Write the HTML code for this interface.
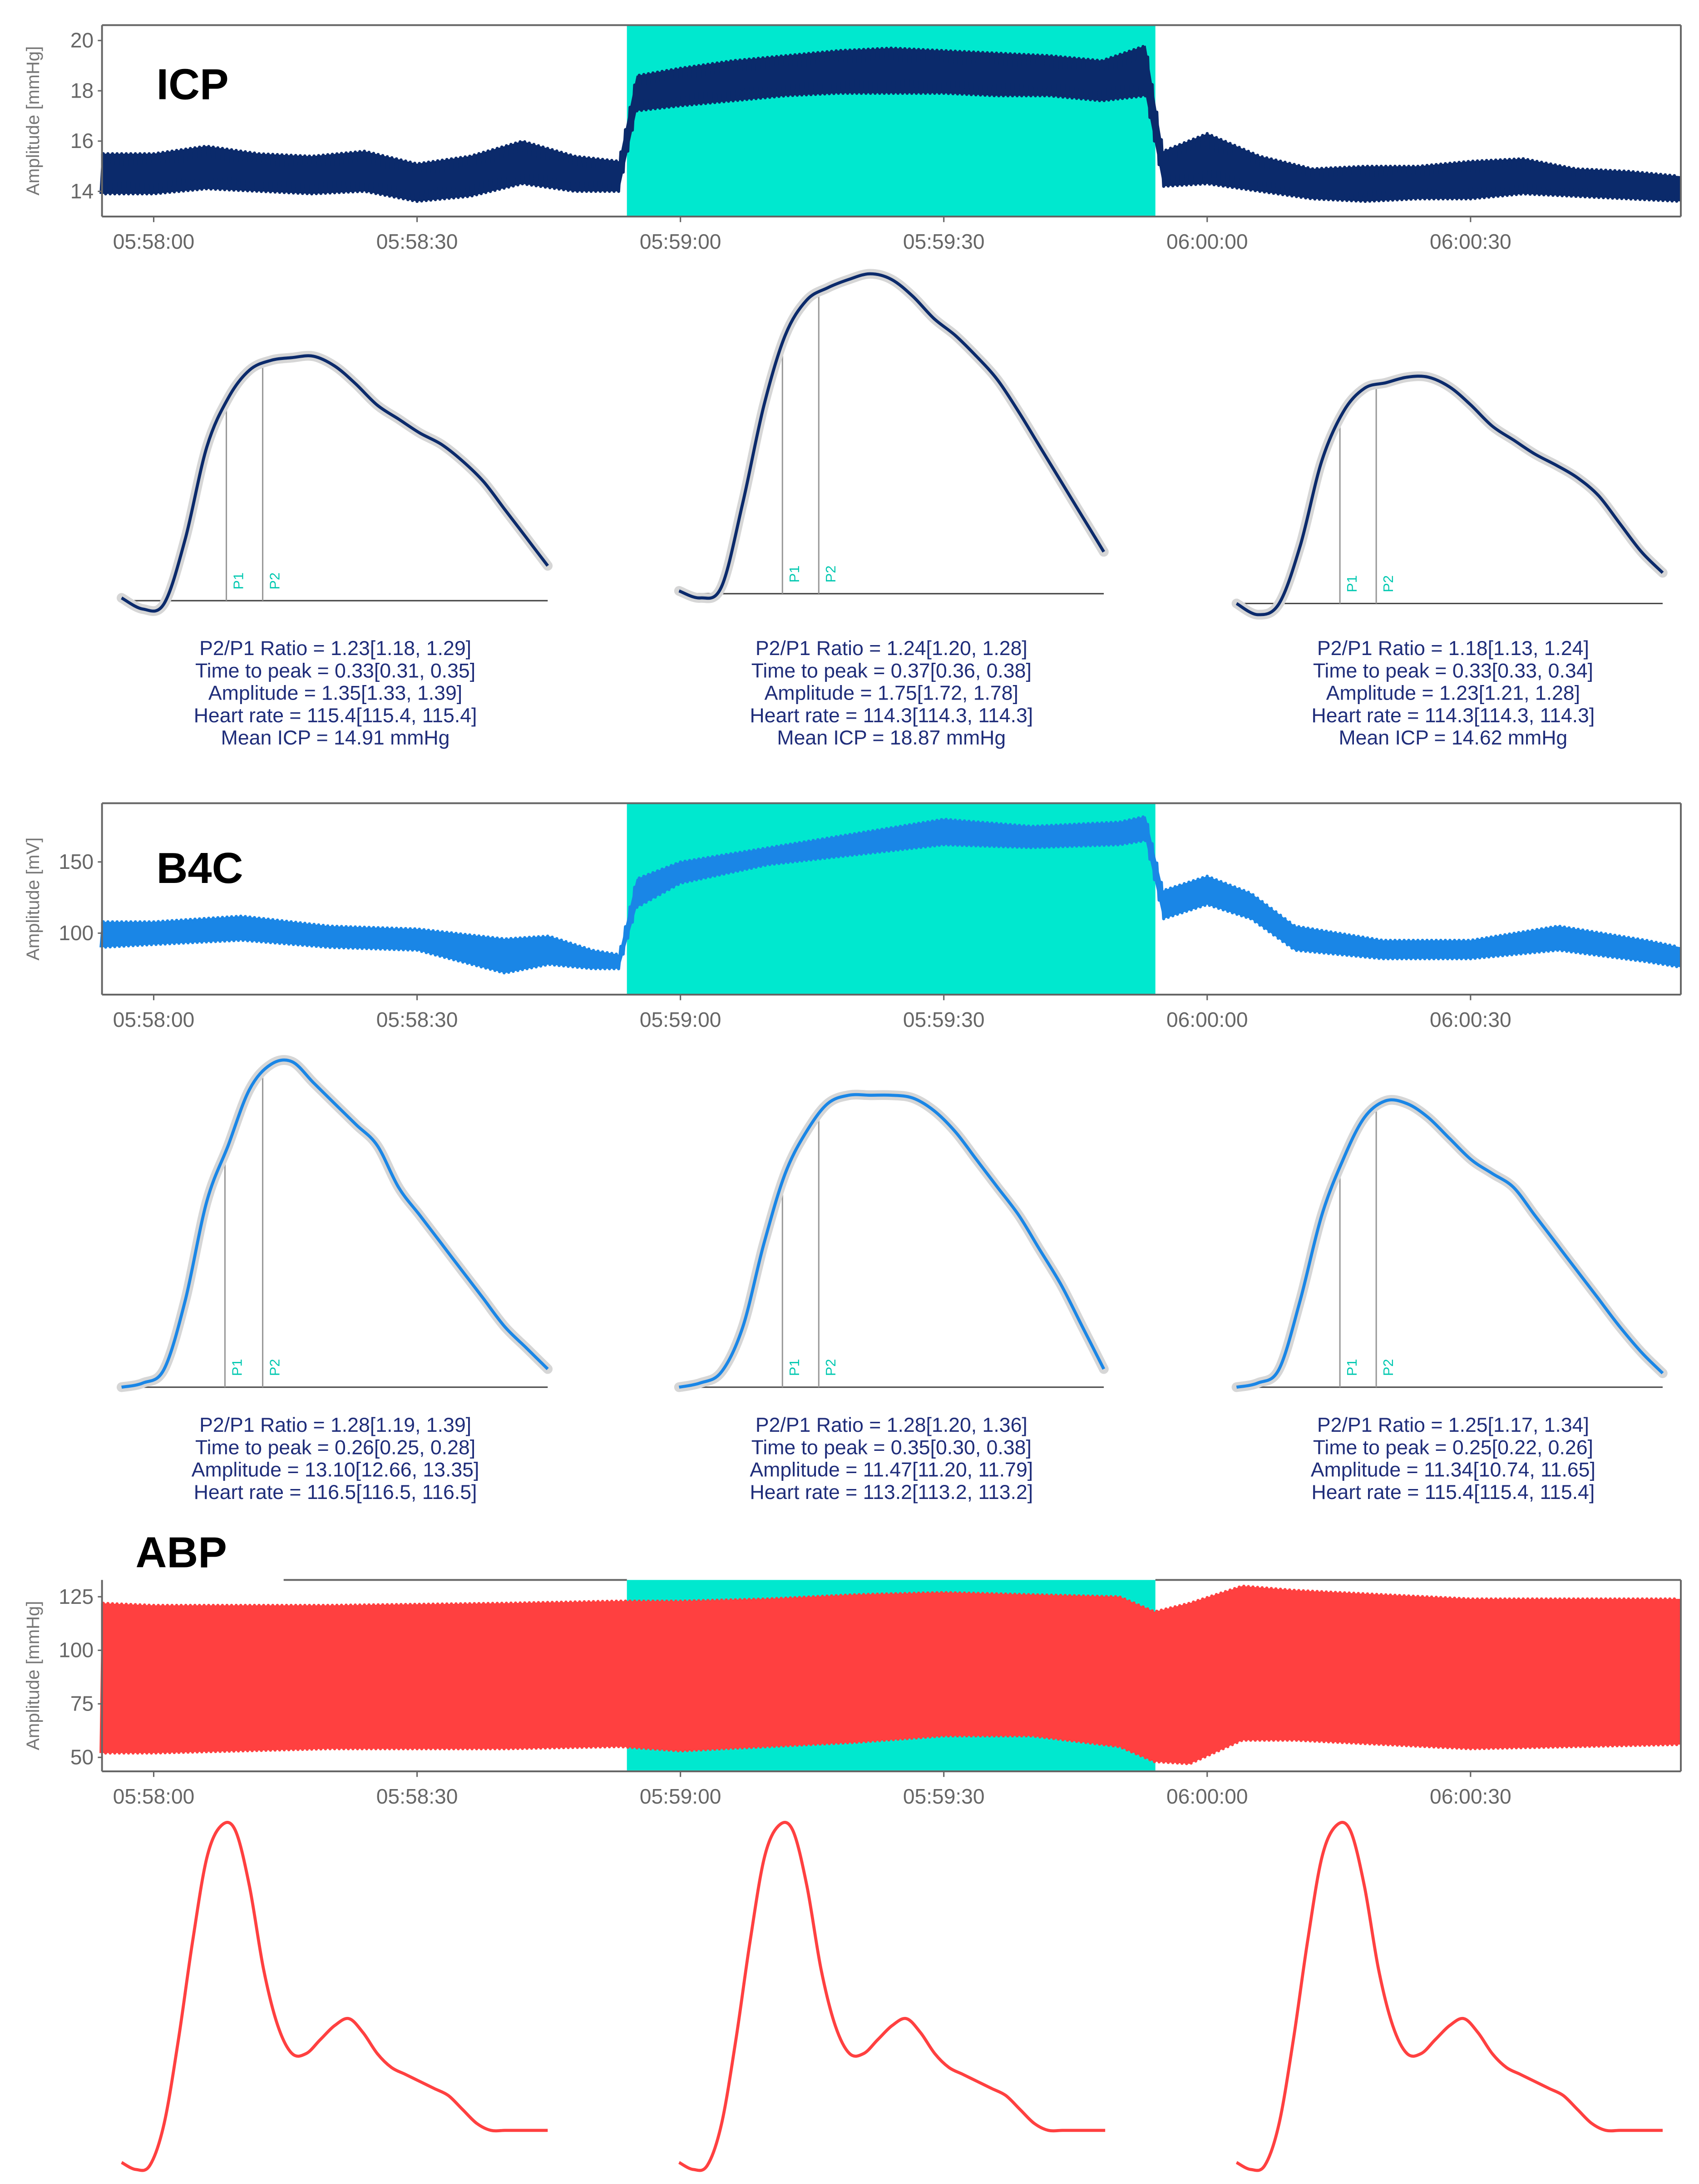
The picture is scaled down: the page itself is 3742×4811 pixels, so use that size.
<!DOCTYPE html>
<html><head><meta charset="utf-8"><style>
html,body{margin:0;padding:0;background:#fff}
svg{display:block}
.tk{font-family:"Liberation Sans",sans-serif;font-size:15px;fill:#666}
.ax{font-family:"Liberation Sans",sans-serif;font-size:13px;fill:#777}
.big{font-family:"Liberation Sans",sans-serif;font-size:31px;font-weight:bold;fill:#000}
.st{font-family:"Liberation Sans",sans-serif;font-size:14.5px;fill:#1f2d7a}
.pl{font-family:"Liberation Sans",sans-serif;font-size:10px;fill:#00c8b0}
</style></head><body>
<svg id="fig" width="3742" height="4811" viewBox="0 0 1216 1563.4" xmlns="http://www.w3.org/2000/svg"></svg>
<script>
// ---- time-series envelopes (seconds from 05:58:00) ----
const icpT  = [-6,0,6,12,18,24,30,36,42,48,53,55,60,66,72,78,84,90,96,102,108,113,115,120,126,132,138,144,150,156,162,168,174];
const icpLo = [13.9,13.9,14.1,14.0,13.9,14.0,13.6,13.8,14.3,14.0,14.0,17.2,17.4,17.6,17.8,17.9,17.9,17.9,17.8,17.8,17.6,17.8,14.2,14.3,14.0,13.7,13.6,13.7,13.7,13.9,13.8,13.7,13.6];
const icpHi = [15.5,15.5,15.8,15.5,15.4,15.6,15.1,15.4,16.0,15.4,15.2,18.6,18.9,19.2,19.4,19.6,19.7,19.6,19.5,19.4,19.2,19.8,15.6,16.3,15.4,14.9,15.0,15.0,15.2,15.3,14.9,14.8,14.6];
const b4cT  = [-6,0,10,20,30,40,45,50,53,55,60,70,80,90,100,110,113,115,120,125,130,140,150,160,170,174];
const b4cLo = [90,92,95,90,88,72,78,75,75,118,135,148,155,162,160,162,165,110,120,110,88,82,82,88,80,76];
const b4cHi = [108,108,112,105,103,96,98,88,85,138,150,160,170,180,175,178,182,130,140,128,105,95,95,105,95,90];
const abpT  = [-6,0,20,40,53,60,70,80,90,100,110,114,118,124,130,150,174];
const abpLo = [52,52,54,54,55,53,55,57,60,60,55,48,47,58,58,54,56];
const abpHi = [122,121,121,122,123,123,124,126,127,126,125,118,122,130,128,124,124];
const xTicks = ["05:58:00","05:58:30","05:59:00","05:59:30","06:00:00","06:00:30"];
const icpTicks = [14,16,18,20];
const b4cTicks = [100,150];
const abpTicks = [50,75,100,125];
// ---- mean waveforms (height above baseline, uniform samples) ----
const icpW1 = [2,-6,-2,45,110,145,165,172,174,175,168,155,140,130,120,112,100,85,65,45,25];
const icpW2 = [2,-3,5,65,135,185,210,219,225,229,225,213,197,185,170,153,130,105,80,55,30];
const icpW3 = [0,-8,0,42,102,137,154,158,162,162,155,142,127,117,107,99,90,77,57,37,22];
const b4cW1 = [0,3,13,63,133,173,213,231,233,218,203,188,173,143,123,103,83,63,43,28,13];
const b4cW2 = [0,3,11,43,103,153,183,203,209,209,209,207,198,183,163,143,123,98,73,43,13];
const b4cW3 = [0,3,13,63,123,163,193,205,203,193,178,163,153,143,123,103,83,63,43,25,10];
const abpW  = [4,-1,2,32,92,162,222,245,242,202,142,102,82,82,92,102,107,97,82,72,67,62,57,52,42,32,27,27,27,27,27];
const icpStats = [
 ["P2/P1 Ratio = 1.23[1.18, 1.29]","Time to peak = 0.33[0.31, 0.35]","Amplitude = 1.35[1.33, 1.39]","Heart rate = 115.4[115.4, 115.4]","Mean ICP = 14.91 mmHg"],
 ["P2/P1 Ratio = 1.24[1.20, 1.28]","Time to peak = 0.37[0.36, 0.38]","Amplitude = 1.75[1.72, 1.78]","Heart rate = 114.3[114.3, 114.3]","Mean ICP = 18.87 mmHg"],
 ["P2/P1 Ratio = 1.18[1.13, 1.24]","Time to peak = 0.33[0.33, 0.34]","Amplitude = 1.23[1.21, 1.28]","Heart rate = 114.3[114.3, 114.3]","Mean ICP = 14.62 mmHg"]];
const b4cStats = [
 ["P2/P1 Ratio = 1.28[1.19, 1.39]","Time to peak = 0.26[0.25, 0.28]","Amplitude = 13.10[12.66, 13.35]","Heart rate = 116.5[116.5, 116.5]"],
 ["P2/P1 Ratio = 1.28[1.20, 1.36]","Time to peak = 0.35[0.30, 0.38]","Amplitude = 11.47[11.20, 11.79]","Heart rate = 113.2[113.2, 113.2]"],
 ["P2/P1 Ratio = 1.25[1.17, 1.34]","Time to peak = 0.25[0.22, 0.26]","Amplitude = 11.34[10.74, 11.65]","Heart rate = 115.4[115.4, 115.4]"]];

const NS="http://www.w3.org/2000/svg", svg=document.getElementById('fig');
function mk(tag,attrs,parent){const e=document.createElementNS(NS,tag);for(const k in attrs)e.setAttribute(k,attrs[k]);(parent||svg).appendChild(e);return e;}
const xT = t => 110 + t*188.5/30;
const L=73,R=1203;
function interp(T,V,t){if(t<=T[0])return V[0];for(let i=1;i<T.length;i++){if(t<=T[i]){const f=(t-T[i-1])/(T[i]-T[i-1]);return V[i-1]+f*(V[i]-V[i-1]);}}return V[V.length-1];}

function panel(name,top,bot,yf,ticks,T,LO,HI,color,title,label,labX,labY,noTop){
  const g=mk('g',{});
  
  
  const sh=mk('rect',{x:xT(53.9),y:top,width:xT(114.1)-xT(53.9),height:bot-top,fill:'#00e8cf'},g);
  
  
  // filled band from envelope
  let up='',dn='';
  for(let t=-6;t<=174;t+=0.5){up+=(up?'L':'M')+xT(t).toFixed(2)+','+yf(interp(T,HI,t)).toFixed(2);}
  for(let t=174;t>=-6;t-=0.5){dn+='L'+xT(t).toFixed(2)+','+yf(interp(T,LO,t)).toFixed(2);}
  const band=mk('path',{d:up+dn+'Z',fill:color,stroke:'none'},g);
  
  
  // signal
  let d='';const dt=60/115;let k=0;
  for(let t=-6;t<=174;t+=dt/2,k++){const v=(k%2? interp(T,HI,t):interp(T,LO,t));d+=(k?'L':'M')+xT(t).toFixed(2)+','+yf(v).toFixed(2);}
  const p=mk('path',{d:d,fill:'none',stroke:color,'stroke-width':2.2,'stroke-linejoin':'round'},g);
  
  
  // frame
  mk('line',{x1:L,y1:bot,x2:R,y2:bot,stroke:'#666','stroke-width':1.3},g);
  mk('line',{x1:L,y1:top,x2:L,y2:bot,stroke:'#666','stroke-width':1.3},g);
  mk('line',{x1:R,y1:top,x2:R,y2:bot,stroke:'#666','stroke-width':1.3},g);
  if(noTop){mk('line',{x1:203,y1:top,x2:xT(53.9),y2:top,stroke:'#666','stroke-width':1.3},g);mk('line',{x1:xT(114.1),y1:top,x2:R,y2:top,stroke:'#666','stroke-width':1.3},g);}
  else mk('line',{x1:L,y1:top,x2:R,y2:top,stroke:'#666','stroke-width':1.3},g);
  ticks.forEach(v=>{const y=yf(v);mk('line',{x1:L-3,y1:y,x2:L,y2:y,stroke:'#666'},g);
    const tx=mk('text',{x:L-6,y:y+5,'text-anchor':'end',class:'tk'},g);tx.textContent=v;
    
    });
  xTicks.forEach((s,i)=>{const x=xT(i*30);mk('line',{x1:x,y1:bot,x2:x,y2:bot+4,stroke:'#666'},g);
    const tx=mk('text',{x:x,y:bot+23,'text-anchor':'middle',class:'tk'},g);tx.textContent=s;
    
    });
  const yt=mk('text',{x:0,y:0,transform:`translate(28,${(top+bot)/2}) rotate(-90)`,'text-anchor':'middle',class:'ax'},g);
  yt.textContent=title;
  
  
  const lb=mk('text',{x:labX,y:labY,class:'big'},g);lb.textContent=label;
  
  
}
panel('icp',18,155,v=>137-(v-14)*18,icpTicks,icpT,icpLo,icpHi,'#0b2a6b','Amplitude [mmHg]','ICP',112,71);
panel('b4c',575,712,v=>668-(v-100)*1.02,b4cTicks,b4cT,b4cLo,b4cHi,'#1a86e6','Amplitude [mV]','B4C',112,632);
panel('abp',1131,1268,v=>1258-(v-50)*1.533,abpTicks,abpT,abpLo,abpHi,'#ff4040','Amplitude [mmHg]','ABP',97,1122,true);

function wave(name,x0,x1,base,H,color,p1,p2,axis,shadow){
  const g=mk('g',{});
  
  
  const n=H.length, xs=i=>x0+i*(x1-x0)/(n-1), ys=h=>base-h;
  let s='M'+xs(0)+','+ys(H[0]);
  for(let i=0;i<n-1;i++){const p0=[xs(Math.max(i-1,0)),ys(H[Math.max(i-1,0)])],a=[xs(i),ys(H[i])],b=[xs(i+1),ys(H[i+1])],p3=[xs(Math.min(i+2,n-1)),ys(H[Math.min(i+2,n-1)])];
    s+=` C${(a[0]+(b[0]-p0[0])/6).toFixed(1)},${(a[1]+(b[1]-p0[1])/6).toFixed(1)} ${(b[0]-(p3[0]-a[0])/6).toFixed(1)},${(b[1]-(p3[1]-a[1])/6).toFixed(1)} ${b[0].toFixed(1)},${b[1].toFixed(1)}`;}
  if(axis) mk('line',{x1:x0,y1:base,x2:x1,y2:base,stroke:'#444','stroke-width':1},g);
  const hAt=x=>{const f=(x-x0)/(x1-x0)*(n-1);const i=Math.floor(f);return H[i]+(f-i)*(H[i+1]-H[i]);};
  [[p1,'P1'],[p2,'P2']].forEach(([px,lab])=>{if(px==null)return;
    mk('line',{x1:px,y1:base,x2:px,y2:ys(hAt(px)),stroke:'#999','stroke-width':1},g);
    const t=mk('text',{x:0,y:0,transform:`translate(${px+12},${base-8}) rotate(-90)`,class:'pl'},g);t.textContent=lab;
    
    });
  if(shadow) mk('path',{d:s,fill:'none',stroke:'#d6d6d6','stroke-width':7,'stroke-linecap':'round'},g);
  const c=mk('path',{d:s,fill:'none',stroke:color,'stroke-width':2.2},g);
  
  
}
wave('icp-wave-1',87,392,430,icpW1,'#0b2a6b',162,188,true,true);
wave('icp-wave-2',486,790,425,icpW2,'#0b2a6b',560,586,true,true);
wave('icp-wave-3',885,1190,432,icpW3,'#0b2a6b',959,985,true,true);
wave('b4c-wave-1',87,392,993,b4cW1,'#1a86e6',161,188,true,true);
wave('b4c-wave-2',486,790,993,b4cW2,'#1a86e6',560,586,true,true);
wave('b4c-wave-3',885,1190,993,b4cW3,'#1a86e6',959,985,true,true);
wave('abp-wave-1',87,392,1552,abpW,'#ff4040',null,null,false,false);
wave('abp-wave-2',486,791,1552,abpW,'#ff4040',null,null,false,false);
wave('abp-wave-3',885,1190,1552,abpW,'#ff4040',null,null,false,false);

function stats(name,arr,cxs,y0){
  arr.forEach((lines,j)=>lines.forEach((s,i)=>{const t=mk('text',{x:cxs[j],y:y0+i*16,'text-anchor':'middle',class:'st'});t.textContent=s;
    
    }));
}
stats('icp',icpStats,[240,638,1040],469);
stats('b4c',b4cStats,[240,638,1040],1025);
</script>
</body></html>
